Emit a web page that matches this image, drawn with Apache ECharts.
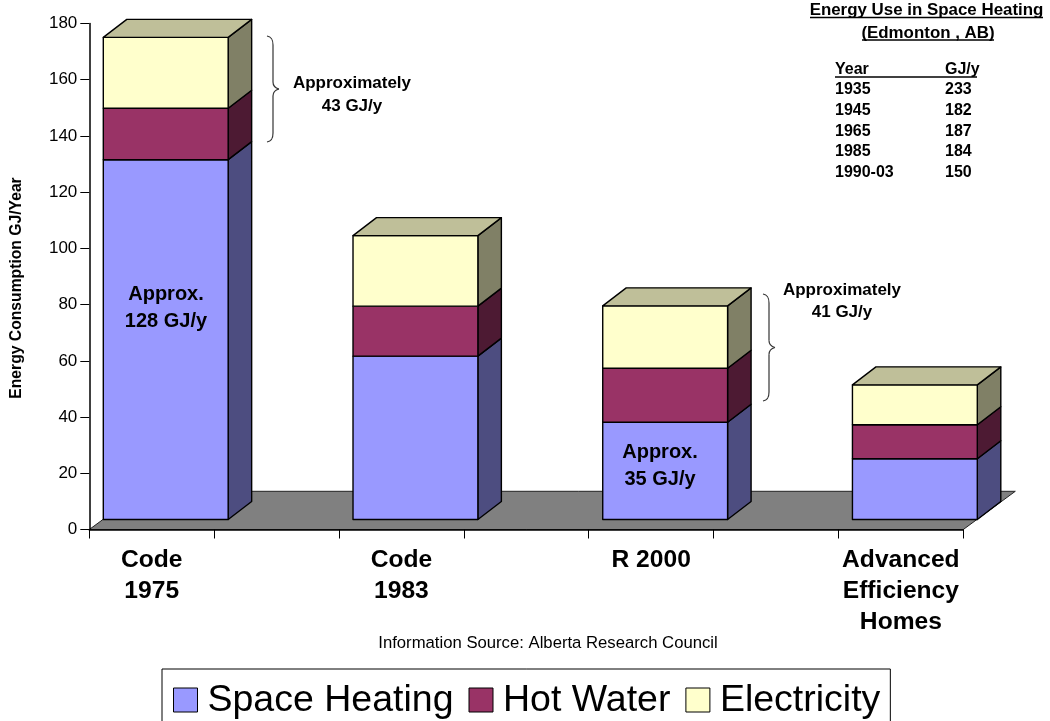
<!DOCTYPE html>
<html><head><meta charset="utf-8">
<style>html,body{margin:0;padding:0;background:#fff}#c{width:1050px;height:721px}</style>
<script src="https://cdn.jsdelivr.net/npm/echarts@6/dist/echarts.min.js"></script>
</head><body><div id="c"></div>
<script>
const categories = ['Code\n1975','','Code\n1983','','R 2000','','Advanced\nEfficiency\nHomes'];
const spaceHeating = [128,null,58.1,null,34.6,null,21.6];
const hotWater = [18.3,null,17.8,null,19.2,null,12.1];
const electricity = [25.2,null,25.1,null,22.2,null,14.2];
const yearRows = ['1935','1945','1965','1985','1990-03'];
const gjRows = ['233','182','187','184','150'];
const FONT = '"Liberation Sans", Arial, sans-serif';

const stackOrder = [spaceHeating, hotWater, electricity];
function segments(k){
  const out = [];
  categories.forEach((c,i)=>{
    if (stackOrder[k][i]==null) return;
    let base = 0;
    for (let j=0;j<k;j++) base += stackOrder[j][i];
    out.push([i, base, base+stackOrder[k][i]]);
  });
  return out;
}
const OFF = [14,-10], DEPTH = [23.5,-18];
function box(color, side, top, withTop){
  return function(params, api){
    const c0 = api.coord([api.value(0), api.value(1)]);
    const c1 = api.coord([api.value(0), api.value(2)]);
    const w = api.size([1,0])[0];
    const x0 = c0[0]-w/2+OFF[0], x1 = c0[0]+w/2+OFF[0];
    const yb = c0[1]+OFF[1], yt = c1[1]+OFF[1];
    const ls = (f)=>({fill:f, stroke:'#000', lineWidth:1.4, lineJoin:'round'});
    const kids = [
      {type:'polygon', shape:{points:[[x1,yb],[x1+DEPTH[0],yb+DEPTH[1]],[x1+DEPTH[0],yt+DEPTH[1]],[x1,yt]]}, style:ls(side)},
      {type:'polygon', shape:{points:[[x0,yb],[x1,yb],[x1,yt],[x0,yt]]}, style:ls(color)}
    ];
    if (withTop) kids.push({type:'polygon', shape:{points:[[x0,yt],[x1,yt],[x1+DEPTH[0],yt+DEPTH[1]],[x0+DEPTH[0],yt+DEPTH[1]]]}, style:ls(top)});
    return {type:'group', children:kids};
  };
}
function floor(params, api){
  const l = api.coord([0,0]); const r = api.coord([categories.length-1,0]);
  const w = api.size([1,0])[0];
  const x0 = l[0]-w/2, x1 = r[0]+w/2, y = l[1];
  return {type:'polygon', shape:{points:[[x0,y],[x1,y],[x1+52,y-38.2],[x0+52,y-38.2]]},
    style:{fill:'#808080', stroke:'#222', lineWidth:1}};
}
const T = (text,x,y,size,weight,align)=>({type:'text', z:100, x, y:y+1,
  style:{text, x:0, y:0, fill:'#000', font:(weight||'normal')+' '+size+'px '+FONT, textAlign:align||'center', textVerticalAlign:'middle'}});
const L = (x1,y1,x2,y2,w,c)=>({type:'line', z:100, shape:{x1,y1,x2,y2}, style:{stroke:c||'#000', lineWidth:w||1.5}});
const B = (x1,y1,cpx1,cpy1,cpx2,cpy2,x2,y2)=>({type:'bezierCurve', z:100, shape:{x1,y1,cpx1,cpy1,cpx2,cpy2,x2,y2}, style:{fill:'none', stroke:'#333', lineWidth:1.2}});
const brace = (x,y0,y1)=>{
  const m=(y0+y1)/2;
  return [
    B(x,y0,x+5,y0+1,x+6,y0+4,x+6,y0+9),
    L(x+6,y0+9,x+6,m-7,1.2,'#333'),
    B(x+6,m-7,x+6,m-3,x+8,m-1,x+12,m),
    B(x+12,m,x+8,m+1,x+6,m+3,x+6,m+7),
    L(x+6,m+7,x+6,y1-9,1.2,'#333'),
    B(x+6,y1-9,x+6,y1-4,x+5,y1-1,x,y1)
  ];
};
const gfx = [
  T('Approx.',166,293,20,'bold'), T('128 GJ/y',166,320,20,'bold'),
  T('Approx.',660,451,20,'bold'), T('35 GJ/y',660,478,20,'bold'),
  T('Approximately',352,82,17,'bold'), T('43 GJ/y',352,105,17,'bold'),
  T('Approximately',842,289,17,'bold'), T('41 GJ/y',842,311,17,'bold'),
  ...brace(267,36,142), ...brace(763,294,401),
  T('Information Source: Alberta Research Council',548,642,16.7),
  T('Energy Use in Space Heating',926.5,9,16.9,'bold'), L(810,17.5,1043,17.5),
  T('(Edmonton , AB)',928,32,16.9,'bold'), L(862,40,994,40),
  T('Year',835,69,16,'bold','left'), T('GJ/y',945,69,16,'bold','left'), L(835,77,977,77)
];
const rowY = [89,110,130.5,151,171.5];
yearRows.forEach((t,i)=>{ gfx.push(T(t,835,rowY[i],16,'bold','left')); gfx.push(T(gjRows[i],945,rowY[i],16,'bold','left')); });

const chart = echarts.init(document.getElementById('c'), null, {renderer:'canvas'});
chart.setOption({
  animation:false,
  textStyle:{fontFamily:FONT},
  grid:{left:89.3, top:23.5, width:874, height:506, containLabel:false, outerBoundsMode:'none'},
  xAxis:{type:'category', data:categories, z:5,
    axisLine:{onZero:false, lineStyle:{color:'#000', width:1.5}},
    axisTick:{show:true, interval:0, length:9, lineStyle:{color:'#000', width:1}},
    axisLabel:{interval:0, hideOverlap:false, margin:15, color:'#000', fontSize:24.6, fontWeight:'bold', lineHeight:31, fontFamily:FONT}},
  yAxis:{type:'value', min:0, max:180, interval:20, z:5,
    name:'Energy Consumption GJ/Year', nameLocation:'middle', nameRotate:90, nameGap:65,
    nameTextStyle:{color:'#000', fontSize:15.7, fontWeight:'bold', fontFamily:FONT, padding:[0,23,0,0]},
    splitLine:{show:false},
    axisLine:{show:true, lineStyle:{color:'#000', width:1.5}},
    axisTick:{show:true, length:9, lineStyle:{color:'#000', width:1}},
    axisLabel:{margin:12, color:'#000', fontSize:17, fontFamily:FONT}},
  legend:{left:162, top:669, data:['Space Heating','Hot Water','Electricity'], icon:'path://M0 0H24V24H0Z M0 26L0 26', itemWidth:24, itemHeight:26, itemGap:15,
    padding:[13,10,7,11], borderColor:'#000', borderWidth:1, backgroundColor:'#fff',
    itemStyle:{borderColor:'#000', borderWidth:1},
    textStyle:{fontSize:37.5, color:'#000', fontFamily:FONT, padding:[0,0,0,5]}},
  tooltip:{show:false},
  graphic:{elements:gfx},
  series:[
    {type:'custom', name:'floor', silent:true, clip:false, z:1, data:[[0,0]], renderItem:floor},
    {type:'custom', name:'Space Heating', clip:false, z:2, itemStyle:{color:'#9999FF'}, encode:{x:0,y:[1,2]}, data:segments(0), renderItem:box('#9999FF','#4D4D80','#7373BF',false)},
    {type:'custom', name:'Hot Water', clip:false, z:2, itemStyle:{color:'#993366'}, encode:{x:0,y:[1,2]}, data:segments(1), renderItem:box('#993366','#4D1A33','#73264D',false)},
    {type:'custom', name:'Electricity', clip:false, z:2, itemStyle:{color:'#FFFFCC'}, encode:{x:0,y:[1,2]}, data:segments(2), renderItem:box('#FFFFCC','#808066','#BFBF99',true)}
  ]
});
</script></body></html>
